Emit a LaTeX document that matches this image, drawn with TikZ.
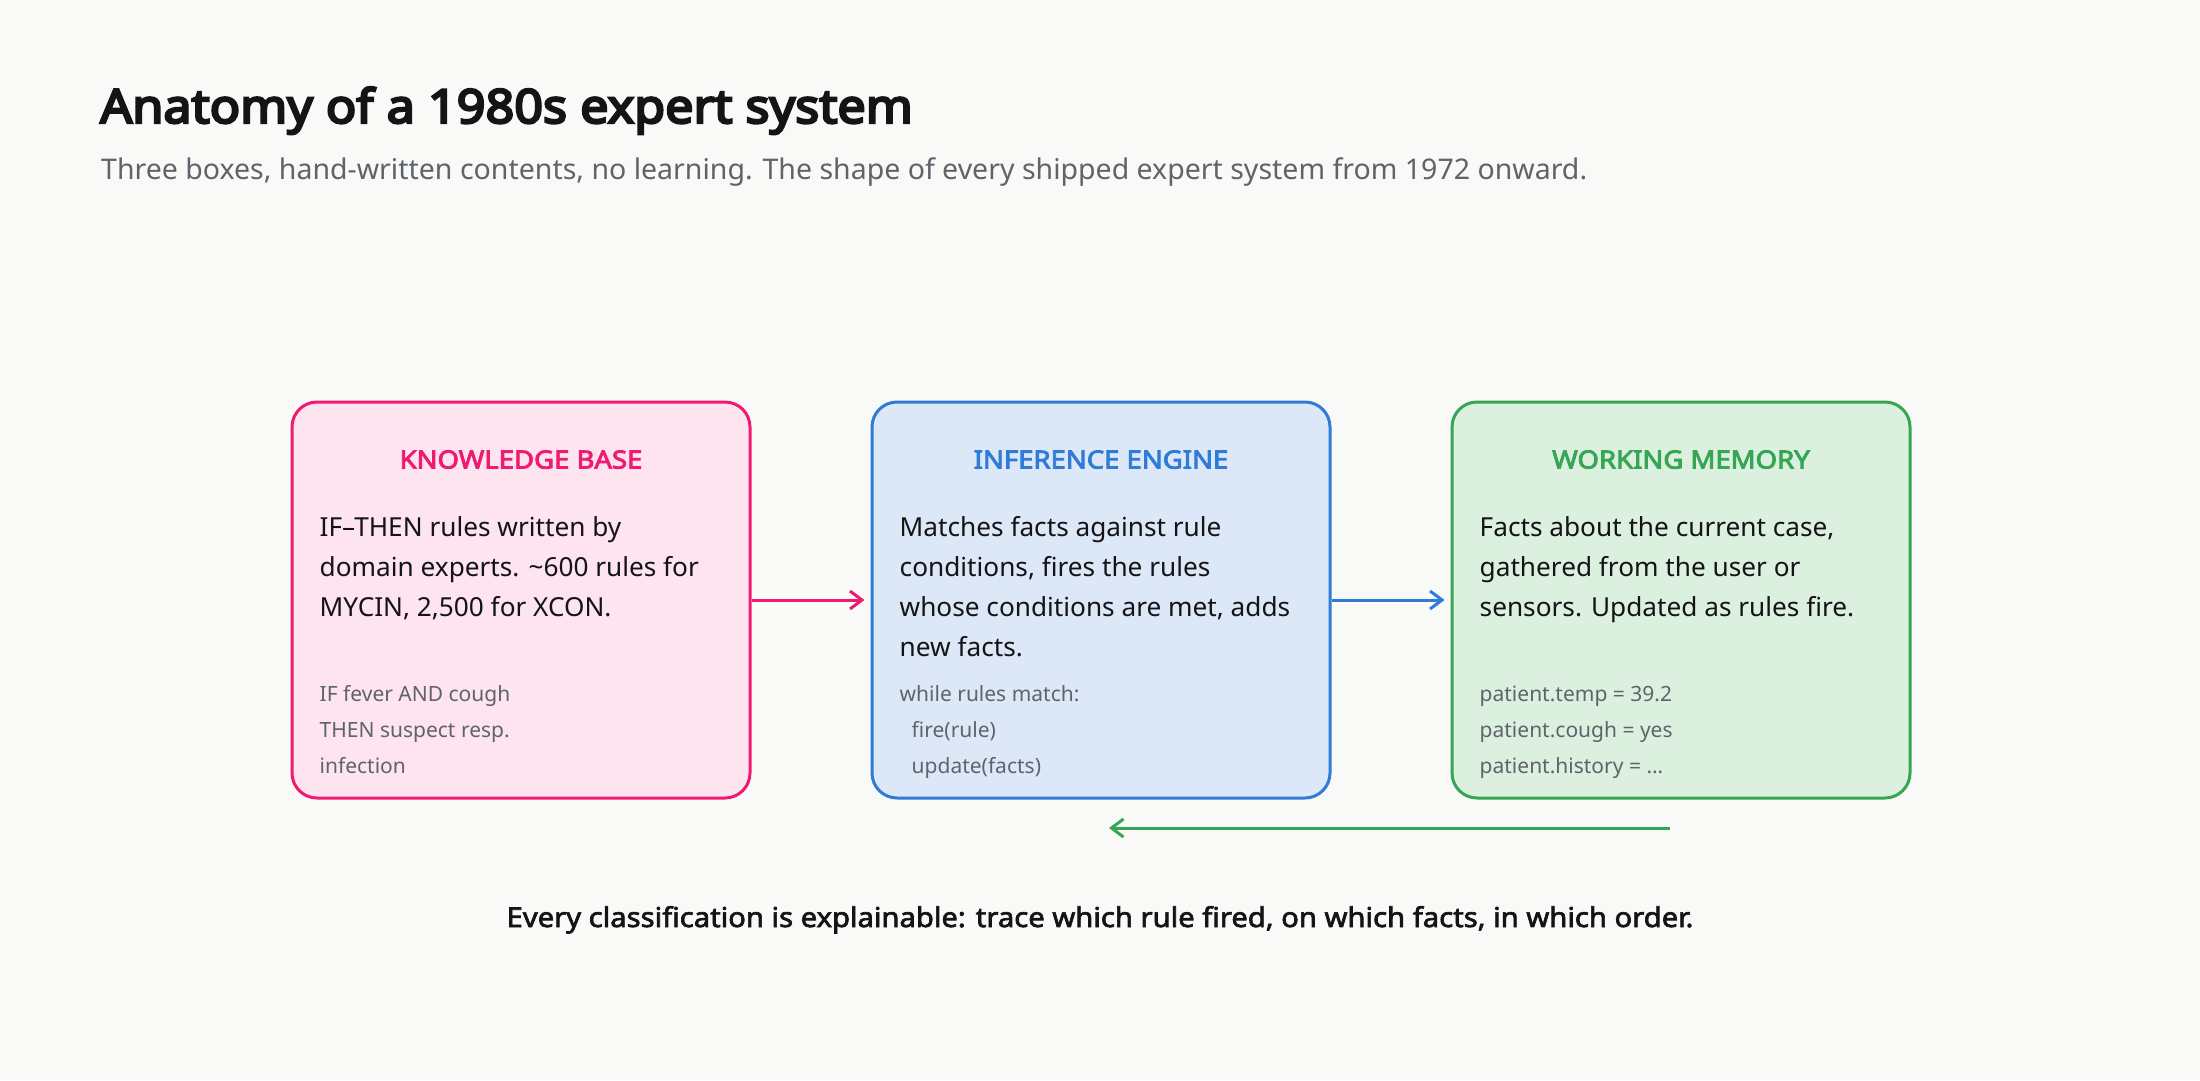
\documentclass[tikz,border=0pt]{standalone}
\usepackage{fontspec}
\setmainfont{Noto Sans}
\newfontfamily\titlefont{Noto Sans}[FakeBold=5, FakeStretch=1.07]
\newfontfamily\headfont{Noto Sans}[FakeBold=3.5, FakeStretch=1.1]
\newfontfamily\notefont{Noto Sans}[FakeBold=2.5, FakeStretch=1.07]
\usepackage{tikz}
\usetikzlibrary{arrows.meta, positioning, calc}

\definecolor{paper}{RGB}{249,249,248}
\definecolor{ink}{RGB}{20,20,22}
\definecolor{muted}{RGB}{95,99,106}
\definecolor{kbline}{RGB}{240,27,112}
\definecolor{kbfill}{RGB}{253,228,239}
\definecolor{ieline}{RGB}{46,124,216}
\definecolor{iefill}{RGB}{220,232,247}
\definecolor{wmline}{RGB}{52,166,84}
\definecolor{wmfill}{RGB}{220,240,224}

\begin{document}
\begin{tikzpicture}[
			x=1pt, y=-1pt,
			box/.style={draw, rounded corners=25pt, line width=3pt,
				minimum width=458pt, minimum height=396pt},
			head/.style={anchor=base, font=\headfont\fontsize{25}{30}\selectfont},
			body/.style={anchor=north west, align=left, inner sep=0pt,
				text=ink, font=\fontsize{26.2}{40}\selectfont},
			code/.style={anchor=north west, align=left, inner sep=0pt,
				text=muted, font=\fontsize{21}{36}\selectfont},
			link/.style={line width=3pt, -{Straight Barb[length=12pt,width=18pt]}}
			]
			% Sfondo
			\fill[paper] (0,0) rectangle (2200,1080);
			\useasboundingbox (0,0) rectangle (2200,1080);
			
			% Titolo
			\node[anchor=base west, inner sep=0pt, text=ink,
				font=\titlefont\fontsize{47}{56}\selectfont] (title) at (100,123)
				{Anatomy of a 1980s expert system};
			\node[anchor=base west, inner sep=0pt, text=muted,
				font=\fontsize{28.5}{34}\selectfont] (subtitle) at (101,179)
				{Three boxes, hand-written contents, no learning. The shape of every shipped expert system from 1972 onward.};
			
			% Le tre scatole
			\node[box, draw=kbline, fill=kbfill] (KB) at (521,600) {};
			\node[box, draw=ieline, fill=iefill] (IE) at (1101,600) {};
			\node[box, draw=wmline, fill=wmfill] (WM) at (1681,600) {};
			
			% Knowledge base
			\node[head, text=kbline] (KBh) at ($(KB.north)+(0,68)$) {KNOWLEDGE BASE};
			\node[body] (KBb) at ($(KB.north west)+(29,116)$)
				{IF--THEN rules written by\\domain experts. \textasciitilde600 rules for\\MYCIN, 2,500 for XCON.};
			\node[code] (KBc) at ($(KB.north west)+(29,285)$)
				{IF fever AND cough\\THEN suspect resp.\\infection};
			
			% Inference engine
			\node[head, text=ieline] (IEh) at ($(IE.north)+(0,68)$) {INFERENCE ENGINE};
			\node[body] (IEb) at ($(IE.north west)+(29,116)$)
				{Matches facts against rule\\conditions, fires the rules\\whose conditions are met, adds\\new facts.};
			\node[code] (IEc) at ($(IE.north west)+(29,285)$)
				{while rules match:\\\hspace*{12pt}fire(rule)\\\hspace*{12pt}update(facts)};
			
			% Working memory
			\node[head, text=wmline] (WMh) at ($(WM.north)+(0,68)$) {WORKING MEMORY};
			\node[body] (WMb) at ($(WM.north west)+(29,116)$)
				{Facts about the current case,\\gathered from the user or\\sensors. Updated as rules fire.};
			\node[code] (WMc) at ($(WM.north west)+(29,285)$)
				{patient.temp = 39.2\\patient.cough = yes\\patient.history = \ldots};
			
			% Frecce
			\coordinate (KBIEend) at ($(IE.west)+(-6,0)$);
			\coordinate (IEWMend) at ($(WM.west)+(-6,0)$);
			\coordinate (backstart) at (1670,828);
			\coordinate (backend) at (1109,828);
			\draw[link, kbline] (KB.east) -- (KBIEend);
			\draw[link, ieline] (IE.east) -- (IEWMend);
			\draw[link, wmline] (backstart) -- (backend);
			
			% Nota in fondo
			\node[anchor=base, inner sep=0pt, text=ink,
				font=\notefont\fontsize{27.3}{34}\selectfont] (note) at (1100,927)
				{Every classification is explainable: trace which rule fired, on which facts, in which order.};
		\end{tikzpicture}
\end{document}
